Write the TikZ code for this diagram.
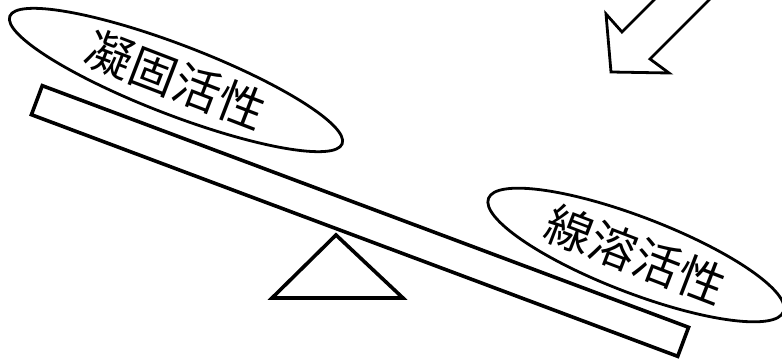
\documentclass[tikz,border=0pt]{standalone}
\usepackage{fontspec}
\newfontfamily\cjk{Noto Sans CJK JP}
\usetikzlibrary{shapes.geometric}
\begin{document}
\begin{tikzpicture}[x=1pt,y=-1pt,
  oval/.style={ellipse, draw, line width=2.8pt, inner sep=0pt, rotate=-21,
    font=\cjk\fontsize{47}{47}\selectfont},
  beambox/.style={rectangle, draw, line width=3.6pt, inner sep=0pt, rotate=-20.5,
    minimum width=690, minimum height=31},
  shape line/.style={draw, line width=3.6pt, line join=miter}]
\clip (0,0) rectangle (782,361);
\fill[white] (0,0) rectangle (782,361);
\node[beambox] (beam) at (360,221) {};
\draw[shape line] (336,235) coordinate (apex) -- (272,298) -- (403,298) -- cycle;
\node[oval, minimum width=356, minimum height=70] (coag) at (176,80) {凝固活性};
\node[oval, minimum width=316, minimum height=76] (fib) at (636,255) {線溶活性};
\draw[line width=2.8pt, line join=miter] (662,-8) -- (622,32) -- (606,14) -- (611,72) -- (669,73) -- (650,59) -- (717,-8);
\end{tikzpicture}
\end{document}
